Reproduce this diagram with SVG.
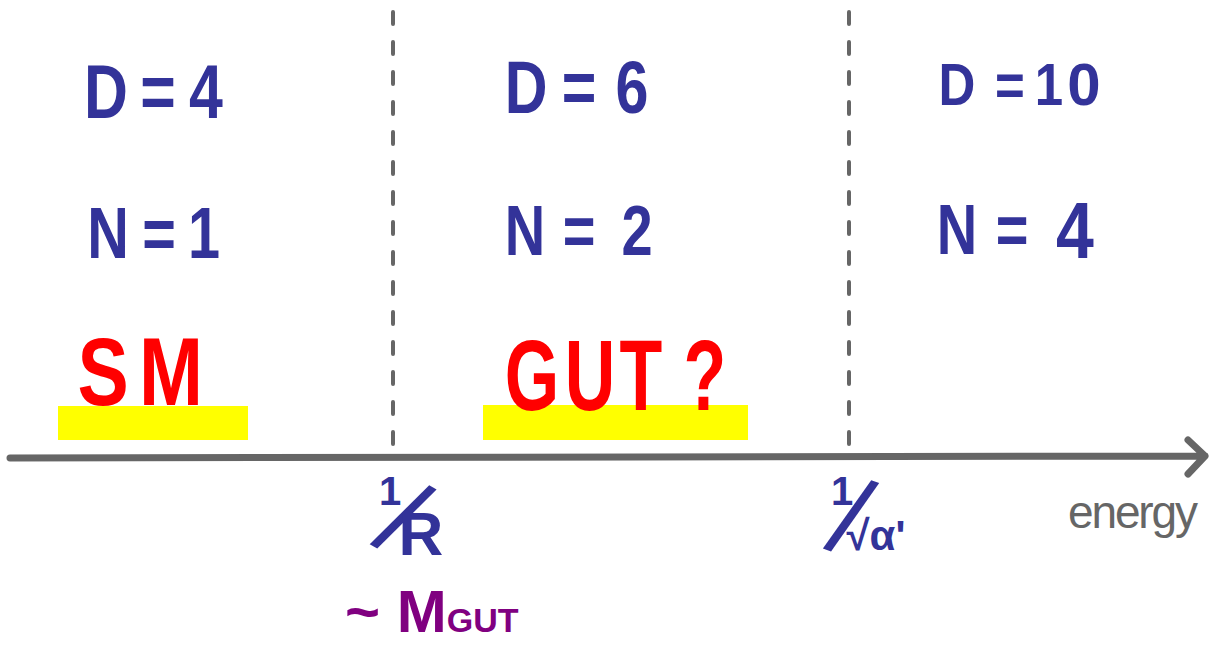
<svg xmlns="http://www.w3.org/2000/svg" width="1215" height="646" viewBox="0 0 1215 646">
<style>
.b{fill:#333399;font-family:"Liberation Sans",Arial,sans-serif;font-weight:bold;text-anchor:middle;}
.r{fill:#ff0000;font-family:"Liberation Sans",Arial,sans-serif;font-weight:bold;text-anchor:middle;}
.g{fill:#666666;font-family:"Liberation Sans",Arial,sans-serif;}
.p{fill:#800080;font-family:"Liberation Sans",Arial,sans-serif;font-weight:bold;}
.s{fill:#333399;font-family:"Liberation Sans",Arial,sans-serif;text-anchor:middle;}
.dash{stroke:#666666;stroke-width:4;stroke-dasharray:12 18;stroke-linecap:round;fill:none;}
.hl{fill:#ffff00;}
</style>
<rect width="1215" height="646" fill="#ffffff"/>
<g id="connectors">
<line class="dash" x1="393" y1="12" x2="393" y2="455"/>
<line class="dash" x1="849" y1="12" x2="849" y2="455"/>
<path d="M10 458 L1205 456 M1188 440 L1205 456 L1188 474" stroke="#666666" stroke-width="7" stroke-linecap="round" stroke-linejoin="round" fill="none"/>
</g>
<g id="highlight-sm"><rect class="hl" x="58" y="406" width="190" height="34"/></g>
<g id="highlight-gut"><rect class="hl" x="483" y="405" width="265" height="35"/></g>
<g id="region1">
<g font-size="76">
<text class="b" transform="translate(106 118) scale(0.8 1)">D</text>
<text class="b" transform="translate(158 118) scale(0.8 1)">=</text>
<text class="b" transform="translate(206 118) scale(0.8 1)">4</text>
</g>
<g font-size="72">
<text class="b" transform="translate(108 258) scale(0.8 1)">N</text>
<text class="b" transform="translate(159 258) scale(0.8 1)">=</text>
<text class="b" transform="translate(204 258) scale(0.8 1)">1</text>
</g>
<g font-size="96">
<text class="r" transform="translate(103 405) scale(0.8 1)">S</text>
<text class="r" transform="translate(171 405) scale(0.8 1)">M</text>
</g>
</g>
<g id="region2">
<g font-size="74">
<text class="b" transform="translate(526 113) scale(0.8 1)">D</text>
<text class="b" transform="translate(579 113) scale(0.8 1)">=</text>
<text class="b" transform="translate(632 113) scale(0.8 1)">6</text>
</g>
<g font-size="70">
<text class="b" transform="translate(525 255) scale(0.8 1)">N</text>
<text class="b" transform="translate(579 255) scale(0.8 1)">=</text>
<text class="b" transform="translate(637 255) scale(0.8 1)">2</text>
</g>
<g font-size="100">
<text class="r" transform="translate(532 410) scale(0.7 1)">G</text>
<text class="r" transform="translate(590 410) scale(0.7 1)">U</text>
<text class="r" transform="translate(641 410) scale(0.7 1)">T</text>
<text class="r" transform="translate(705 410) scale(0.7 1)">?</text>
</g>
</g>
<g id="region3">
<g font-size="60">
<text class="b" transform="translate(957 105) scale(0.85 1)">D</text>
<text class="b" transform="translate(1010 105) scale(0.85 1)">=</text>
<text class="b" transform="translate(1049 105) scale(0.85 1)">1</text>
<text class="b" transform="translate(1084 105) scale(1 1)">0</text>
</g>
<g font-size="70">
<text class="b" transform="translate(957 254) scale(0.8 1)">N</text>
<text class="b" transform="translate(1012 254) scale(0.8 1)">=</text>
<text class="b" transform="translate(1075 258) scale(0.85 1)" font-size="80">4</text>
</g>
</g>
<g id="label-1R">
<text class="b" x="390" y="505" font-size="40">1</text>
<text class="s" x="403" y="556" font-size="110" transform="rotate(30 403 517)">/</text>
<text class="b" x="421" y="555" font-size="62">R</text>
</g>
<g id="label-MGUT">
<text class="p" x="345" y="632" font-size="60">~ M<tspan font-size="34">GUT</tspan></text>
</g>
<g id="label-alpha">
<text class="b" x="842" y="505" font-size="40">1</text>
<text class="s" x="851" y="555" font-size="110" transform="rotate(20 851 516)">/</text>
<text class="b" x="876" y="550" font-size="42">√α'</text>
</g>
<g id="label-energy">
<text class="g" x="1068" y="528" font-size="46" textLength="130" lengthAdjust="spacing">energy</text>
</g>
</svg>
